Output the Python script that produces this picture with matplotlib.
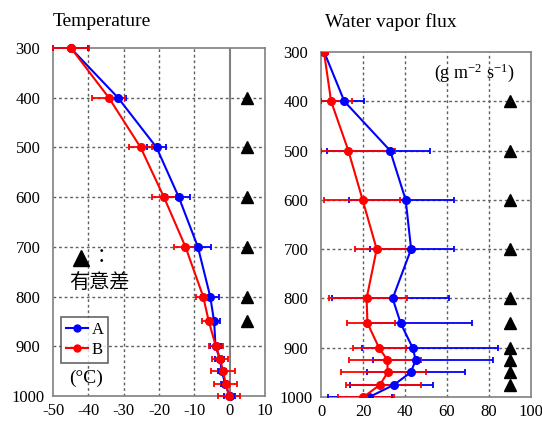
import matplotlib
matplotlib.use("Agg")
import matplotlib.pyplot as plt
from matplotlib.lines import Line2D
import numpy as np

plt.rcParams['font.family'] = ['Liberation Serif', 'Noto Sans CJK JP', 'DejaVu Sans']
plt.rcParams['axes.unicode_minus'] = False
plt.rcParams['mathtext.fontset'] = 'custom'
plt.rcParams['mathtext.rm'] = 'Liberation Serif'
plt.rcParams['mathtext.it'] = 'Liberation Serif:italic'

levels = [300, 400, 500, 600, 700, 800, 850, 900, 925, 950, 975, 1000]

# Temperature (°C)
temp_A = [-45.0, -31.6, -20.7, -14.4, -9.0, -5.5, -4.4, -4.0, -2.8, -2.2, -1.3, 0.0]
temp_A_err = [5.0, 2.4, 2.8, 3.3, 3.6, 2.5, 1.7, 1.5, 1.3, 1.2, 1.1, 1.6]
temp_B = [-44.9, -34.2, -25.2, -18.6, -12.5, -7.5, -5.9, -3.9, -2.7, -1.9, -1.1, -0.2]
temp_B_err = [5.0, 4.7, 3.3, 3.4, 3.3, 1.9, 1.8, 2.0, 2.2, 3.4, 3.3, 3.0]

# Water vapor flux (g m-2 s-1)
flux_A = [1.5, 11.1, 32.9, 40.3, 42.9, 34.1, 37.9, 43.6, 45.1, 42.7, 34.8, 23.0]
flux_A_lo = [1.5, 11.1, 30.2, 27.0, 19.6, 29.0, 17.0, 23.9, 20.2, 21.0, 21.0, 19.5]
flux_A_hi = [1.5, 9.5, 19.0, 23.2, 20.2, 27.0, 33.8, 40.5, 36.6, 25.9, 18.7, 11.0]
flux_B = [1.4, 4.8, 13.0, 19.8, 26.5, 21.7, 22.1, 27.6, 31.6, 31.7, 28.1, 20.2]
flux_B_lo = [1.4, 4.8, 13.0, 18.4, 10.3, 17.9, 9.9, 12.2, 18.3, 22.2, 16.2, 12.0]
flux_B_hi = [2.0, 9.8, 22.2, 18.0, 17.8, 19.1, 13.1, 13.0, 16.0, 18.1, 19.5, 14.7]

sig_temp = [400, 500, 600, 700, 800, 850]
sig_flux = [400, 500, 600, 700, 800, 850, 900, 925, 950, 975]

series_names = ['A', 'B']
titles = ['Temperature', 'Water vapor flux']

BLUE = '#0000FF'
RED = '#FF0000'
FRAME = '#808080'
GRID = '#606060'
SERIF = 'Liberation Serif'

fig = plt.figure(figsize=(5.42, 4.22), dpi=100)
ax1 = fig.add_axes([0.0978, 0.0616, 0.3911, 0.8246])
ax2 = fig.add_axes([0.5923, 0.0592, 0.3875, 0.8175])

def style_axes(ax, xlim, xticks, gridx):
    ax.set_ylim(1000, 300)
    ax.set_xlim(*xlim)
    ax.set_yticks(range(300, 1001, 100))
    ax.set_xticks(xticks)
    for s in ax.spines.values():
        s.set_color(FRAME)
        s.set_linewidth(1.2)
    ax.tick_params(axis='both', length=0, labelsize=12)
    ax.tick_params(axis='y', pad=18)
    ax.tick_params(axis='x', pad=5)
    for lab in ax.get_yticklabels():
        lab.set_horizontalalignment('center')
        lab.set_fontfamily(SERIF)
    for lab in ax.get_xticklabels():
        lab.set_fontfamily(SERIF)
    for gx in gridx:
        ax.axvline(gx, color=GRID, lw=1.0, ls=(0, (2, 2)), zorder=1)
    for gy in range(400, 901, 100):
        ax.axhline(gy, color=GRID, lw=1.0, ls=(0, (2, 2)), zorder=1)

style_axes(ax1, (-50, 10), range(-50, 11, 10), [-40, -30, -20, -10])
ax1.axvline(0, color=FRAME, lw=1.5, zorder=1)
style_axes(ax2, (0, 100), range(0, 101, 20), [20, 40, 60, 80])

ekw = dict(marker='o', ms=5.5, lw=1.5, elinewidth=1.3, capsize=2.5, capthick=1.3, zorder=3, clip_on=False)

ax1.errorbar(temp_A, levels, xerr=temp_A_err, color=BLUE, **ekw)
ax1.errorbar(temp_B, levels, xerr=temp_B_err, color=RED, **ekw)

ekw2 = dict(ekw)
ekw2['clip_on'] = True
ax2.errorbar(flux_A, levels, xerr=[flux_A_lo, flux_A_hi], color=BLUE, **ekw2)
ax2.errorbar(flux_B, levels, xerr=[flux_B_lo, flux_B_hi], color=RED, **ekw2)

ax1.plot([5] * len(sig_temp), sig_temp, ls='none', marker='^', color='black', ms=9, zorder=4)
ax2.plot([90] * len(sig_flux), sig_flux, ls='none', marker='^', color='black', ms=9, zorder=4, clip_on=False)

fig.text(53 / 542, 1 - 22 / 422, titles[0], fontsize=14, ha='left', va='center', family=SERIF)
fig.text(325 / 542, 1 - 22 / 422, titles[1], fontsize=14, ha='left', va='center', family=SERIF)

ax1.plot([-42], [722], marker='^', color='black', ms=11, ls='none', zorder=4)
ax1.text(-39, 722, '：', fontsize=14, va='center', ha='left', family=['Noto Sans CJK JP'])
ax1.text(-45.5, 771, '有意差', fontsize=14.5, va='center', ha='left', family=['Noto Sans CJK JP'])
ax1.text(-45.5, 965, '(°C)', fontsize=14, va='center', ha='left', family=SERIF)
ax2.text(54, 343, '(g m$^{\\mathrm{-2}}$ s$^{\\mathrm{-1}}$)', fontsize=13, va='center', ha='left', family=SERIF)

handles = [Line2D([], [], color=BLUE, marker='o', ms=5, lw=1.5),
           Line2D([], [], color=RED, marker='o', ms=5, lw=1.5)]
leg = ax1.legend(handles, series_names, loc='lower left', bbox_to_anchor=(0.04, 0.095),
                 prop={'family': SERIF, 'size': 12}, frameon=True, fancybox=False, handlelength=1.3,
                 handletextpad=0.2, borderpad=0.3, labelspacing=0.25, borderaxespad=0)
leg.get_frame().set_edgecolor('#404040')
leg.get_frame().set_linewidth(1.2)

fig.savefig('out.png', dpi=100)
